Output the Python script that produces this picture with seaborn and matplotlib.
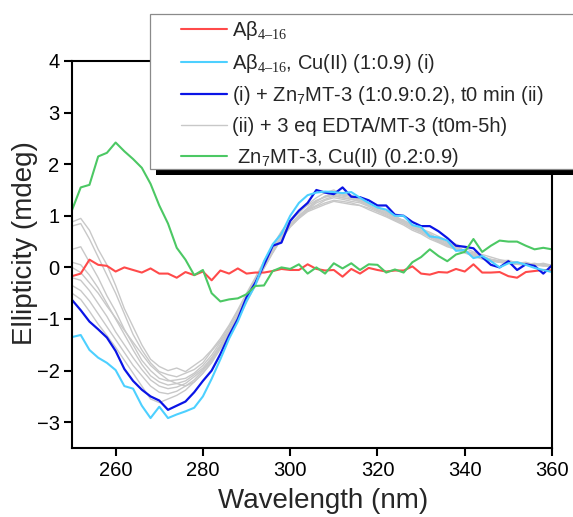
import matplotlib
matplotlib.use("Agg")
import matplotlib.pyplot as plt
import numpy as np
import pandas as pd
import seaborn as sns
from matplotlib.patches import Rectangle
from matplotlib.lines import Line2D

# ---------------- data ----------------
wavelength = list(range(250, 361, 2))

abeta = [-0.17, -0.12, 0.15, 0.05, 0.03, -0.08, 0.0, -0.05, -0.1, -0.02,
         -0.12, -0.12, -0.2, -0.09, -0.15, -0.08, -0.25, -0.06, -0.12, -0.02,
         -0.12, -0.1, -0.1, -0.07, -0.03, -0.05, -0.05, 0.06, -0.03, -0.06,
         -0.05, -0.18, -0.03, -0.12, -0.01, -0.05, -0.08, -0.06, -0.06, 0.02,
         -0.12, -0.14, -0.09, -0.1, -0.03, -0.08, 0.06, -0.1, -0.1, -0.09,
         -0.17, -0.2, -0.09, -0.07, -0.05, -0.06]

abeta_cu = [-1.35, -1.31, -1.6, -1.75, -1.85, -1.99, -2.3, -2.35, -2.68, -2.92,
            -2.7, -2.92, -2.85, -2.79, -2.72, -2.5, -2.16, -1.78, -1.38, -1.05,
            -0.65, -0.35, 0.12, 0.45, 0.65, 1.0, 1.25, 1.40, 1.45, 1.47,
            1.46, 1.44, 1.46, 1.35, 1.25, 1.16, 1.12, 1.0, 1.0, 0.82,
            0.78, 0.6, 0.58, 0.52, 0.32, 0.34, 0.18, 0.22, 0.12, 0.0,
            0.08, 0.10, 0.05, -0.01, -0.05, -0.09]

mt3_t0 = [-0.63, -0.83, -1.05, -1.2, -1.36, -1.62, -1.97, -2.2, -2.37, -2.5,
          -2.58, -2.76, -2.68, -2.6, -2.42, -2.2, -2.0, -1.68, -1.32, -1.0,
          -0.58, -0.3, 0.05, 0.42, 0.48, 0.9, 1.1, 1.25, 1.5, 1.45,
          1.42, 1.55, 1.37, 1.36, 1.3, 1.2, 1.2, 1.02, 1.0, 0.88,
          0.8, 0.8, 0.7, 0.57, 0.42, 0.40, 0.37, 0.2, 0.05, 0.0,
          0.12, -0.05, 0.06, 0.03, -0.12, 0.04]

edta_1 = [0.88, 0.95, 0.72, 0.35, 0.05, -0.35, -0.8, -1.15, -1.5, -1.78,
          -1.92, -2.0, -1.95, -2.02, -1.9, -1.78, -1.6, -1.38, -1.12, -0.82,
          -0.5, -0.2, 0.12, 0.42, 0.7, 0.92, 1.1, 1.2, 1.3, 1.36,
          1.4, 1.35, 1.32, 1.28, 1.2, 1.12, 1.05, 0.98, 0.9, 0.82,
          0.75, 0.68, 0.6, 0.52, 0.45, 0.38, 0.3, 0.25, 0.2, 0.15,
          0.12, 0.1, 0.08, 0.06, 0.05, 0.05]
edta_2 = [0.8, 0.85, 0.55, 0.2, -0.15, -0.5, -0.9, -1.3, -1.6, -1.85,
          -2.02, -2.08, -2.12, -2.05, -1.98, -1.85, -1.62, -1.42, -1.15, -0.85,
          -0.55, -0.22, 0.1, 0.38, 0.68, 0.9, 1.05, 1.22, 1.35, 1.45,
          1.5, 1.42, 1.4, 1.3, 1.25, 1.15, 1.08, 0.95, 0.92, 0.8,
          0.72, 0.65, 0.55, 0.48, 0.42, 0.32, 0.28, 0.22, 0.15, 0.12,
          0.14, 0.08, 0.1, 0.05, 0.08, 0.04]
edta_3 = [0.35, 0.4, 0.1, -0.2, -0.55, -0.85, -1.2, -1.5, -1.8, -2.0,
          -2.15, -2.2, -2.18, -2.15, -2.05, -1.9, -1.7, -1.45, -1.2, -0.9,
          -0.6, -0.28, 0.05, 0.35, 0.62, 0.85, 1.0, 1.15, 1.28, 1.38,
          1.42, 1.38, 1.35, 1.3, 1.22, 1.1, 1.05, 0.95, 0.88, 0.78,
          0.7, 0.62, 0.55, 0.48, 0.38, 0.32, 0.25, 0.2, 0.16, 0.12,
          0.1, 0.1, 0.06, 0.08, 0.04, 0.05]
edta_4 = [0.1, 0.05, -0.15, -0.4, -0.7, -1.0, -1.3, -1.6, -1.88, -2.1,
          -2.22, -2.28, -2.25, -2.2, -2.08, -1.95, -1.75, -1.5, -1.22, -0.92,
          -0.6, -0.3, 0.02, 0.32, 0.6, 0.82, 0.98, 1.12, 1.2, 1.3,
          1.35, 1.32, 1.28, 1.25, 1.18, 1.1, 1.02, 0.92, 0.85, 0.75,
          0.68, 0.58, 0.5, 0.42, 0.36, 0.3, 0.22, 0.18, 0.14, 0.1,
          0.08, 0.06, 0.05, 0.06, 0.03, 0.04]
edta_5 = [-0.2, -0.25, -0.45, -0.7, -0.95, -1.25, -1.5, -1.75, -1.98, -2.18,
          -2.3, -2.35, -2.32, -2.25, -2.12, -1.98, -1.78, -1.52, -1.25, -0.95,
          -0.62, -0.3, 0.0, 0.3, 0.55, 0.78, 0.95, 1.08, 1.15, 1.22,
          1.28, 1.25, 1.22, 1.2, 1.12, 1.05, 0.98, 0.9, 0.82, 0.72,
          0.65, 0.55, 0.48, 0.4, 0.35, 0.28, 0.22, 0.16, 0.12, 0.1,
          0.08, 0.06, 0.05, 0.04, 0.03, 0.02]
edta_6 = [-0.35, -0.45, -0.65, -0.9, -1.15, -1.4, -1.65, -1.9, -2.1, -2.3,
          -2.42, -2.45, -2.4, -2.3, -2.18, -2.0, -1.8, -1.55, -1.28, -0.98,
          -0.65, -0.32, 0.0, 0.3, 0.58, 0.8, 0.98, 1.12, 1.25, 1.32,
          1.38, 1.35, 1.32, 1.28, 1.2, 1.12, 1.05, 0.95, 0.88, 0.8,
          0.7, 0.62, 0.52, 0.45, 0.38, 0.3, 0.25, 0.2, 0.15, 0.12,
          0.1, 0.08, 0.06, 0.05, 0.04, 0.05]
edta_7 = [-0.5, -0.62, -0.85, -1.1, -1.32, -1.55, -1.8, -2.05, -2.3, -2.55,
          -2.62, -2.55, -2.48, -2.38, -2.22, -2.05, -1.85, -1.58, -1.3, -1.0,
          -0.68, -0.35, -0.02, 0.28, 0.55, 0.8, 1.0, 1.15, 1.28, 1.38,
          1.45, 1.4, 1.38, 1.32, 1.25, 1.18, 1.08, 1.0, 0.9, 0.82,
          0.72, 0.65, 0.55, 0.48, 0.4, 0.32, 0.25, 0.2, 0.15, 0.12,
          0.1, 0.08, 0.05, 0.05, 0.04, 0.03]
edta_8 = [0.0, -0.1, -0.3, -0.5, -0.75, -0.98, -1.22, -1.45, -1.68, -1.9,
          -2.05, -2.18, -2.25, -2.3, -2.22, -2.05, -1.82, -1.55, -1.25, -0.95,
          -0.62, -0.3, 0.02, 0.3, 0.58, 0.8, 0.95, 1.1, 1.18, 1.25,
          1.3, 1.28, 1.25, 1.2, 1.15, 1.08, 1.0, 0.92, 0.85, 0.76,
          0.68, 0.6, 0.5, 0.44, 0.36, 0.3, 0.24, 0.18, 0.14, 0.1,
          0.08, 0.07, 0.05, 0.04, 0.04, 0.03]
edta_series = [edta_1, edta_2, edta_3, edta_4, edta_5, edta_6, edta_7, edta_8]

mt3_cu = [1.11, 1.55, 1.6, 2.15, 2.22, 2.42, 2.25, 2.1, 1.93, 1.62,
          1.2, 0.85, 0.38, 0.15, -0.15, -0.05, -0.5, -0.66, -0.62, -0.6,
          -0.52, -0.36, -0.35, -0.07, 0.0, -0.03, 0.06, -0.12, 0.0, -0.12,
          0.08, -0.02, 0.08, -0.05, 0.06, 0.05, -0.1, -0.04, -0.1, 0.1,
          0.2, 0.35, 0.22, 0.12, 0.25, 0.3, 0.55, 0.3, 0.42, 0.52,
          0.5, 0.5, 0.42, 0.35, 0.38, 0.35]

labels = [
    "A\u03b2$_{\\mathrm{4\u201316}}$",
    "A\u03b2$_{\\mathrm{4\u201316}}$, Cu(II) (1:0.9) (i)",
    "(i) + Zn$_{\\mathsf{7}}$MT-3 (1:0.9:0.2), t0 min (ii)",
    "(ii) + 3 eq EDTA/MT-3 (t0m-5h)",
    " Zn$_{\\mathsf{7}}$MT-3, Cu(II) (0.2:0.9)",
]
x_ticks = [260, 280, 300, 320, 340, 360]
y_ticks = [-3, -2, -1, 0, 1, 2, 3, 4]

# ---------------- style ----------------
sns.set_style("ticks")
plt.rcParams["font.family"] = ["Liberation Sans", "DejaVu Sans"]
plt.rcParams["mathtext.fontset"] = "custom"
plt.rcParams["mathtext.rm"] = "Liberation Serif"
plt.rcParams["mathtext.sf"] = "Liberation Sans"
plt.rcParams["mathtext.it"] = "Liberation Serif:italic"

c_red = "#ff4a4a"
c_cyan = "#4dd0ff"
c_blue = "#0a14e6"
c_gray = "#c8c8c8"
c_green = "#4cc864"

W, H = 573, 517
fig = plt.figure(figsize=(W / 100, H / 100), dpi=100)
ax = fig.add_axes([72 / W, 1 - 448 / H, (552 - 72) / W, (448 - 61) / H])

# gray EDTA series (long form)
gray_df = pd.DataFrame({
    "wl": np.tile(wavelength, len(edta_series)),
    "ell": np.concatenate(edta_series),
    "run": np.repeat(np.arange(len(edta_series)), len(wavelength)),
})
sns.lineplot(data=gray_df, x="wl", y="ell", units="run", estimator=None,
             color=c_gray, linewidth=1.0, ax=ax, legend=False)
sns.lineplot(x=wavelength, y=abeta, color=c_red, linewidth=1.5, ax=ax)
sns.lineplot(x=wavelength, y=mt3_t0, color=c_blue, linewidth=1.6, ax=ax)
sns.lineplot(x=wavelength, y=abeta_cu, color=c_cyan, linewidth=1.5, ax=ax)
sns.lineplot(x=wavelength, y=mt3_cu, color=c_green, linewidth=1.5, ax=ax)

ax.set_xlim(250, 360)
ax.set_ylim(-3.5, 4)
ax.set_xticks(x_ticks)
ax.set_yticks(y_ticks)
for s in ax.spines.values():
    s.set_visible(True)
    s.set_linewidth(1.5)
    s.set_color("black")
ax.tick_params(axis="both", direction="out", length=6, width=1.5,
               labelsize=14.5, pad=3, colors="black")
ax.set_xlabel("Wavelength (nm)", fontsize=20, x=0.523, labelpad=6)
ax.set_ylabel("Ellipticity (mdeg)", fontsize=20, y=0.53, labelpad=-1)

# legend box with black drop shadow
fig.add_artist(Rectangle((156 / W, 1 - 175 / H), (W + 20 - 156) / W, (175 - 20) / H,
                         transform=fig.transFigure, facecolor="black",
                         edgecolor="none", zorder=5, clip_on=False))
fig.add_artist(Rectangle((150 / W, 1 - 169 / H), (W + 20 - 150) / W, (169 - 14) / H,
                         transform=fig.transFigure, facecolor="white",
                         edgecolor="#8a8a8a", linewidth=0.9, zorder=6, clip_on=False))

handles = [
    Line2D([], [], color=c_red, linewidth=1.5),
    Line2D([], [], color=c_cyan, linewidth=1.5),
    Line2D([], [], color=c_blue, linewidth=1.6),
    Line2D([], [], color=c_gray, linewidth=1.0),
    Line2D([], [], color=c_green, linewidth=1.5),
]
leg = fig.legend(handles, labels, loc="upper left",
                 bbox_to_anchor=(181 / W, 1 - 19 / H), frameon=False,
                 fontsize=14.5, handlelength=2.3, handletextpad=0.25,
                 labelspacing=0.48, borderpad=0, borderaxespad=0)
leg.set_zorder(7)

fig.savefig("out.png", dpi=100, facecolor="white")
